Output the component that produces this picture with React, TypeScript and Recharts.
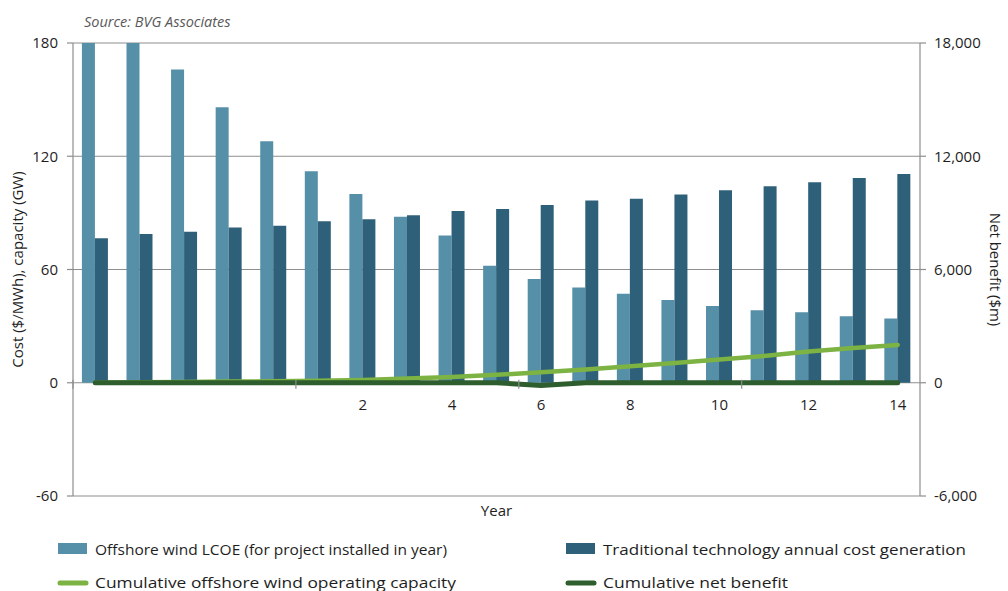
import React from "react";
import {
  ComposedChart,
  Bar,
  Line,
  XAxis,
  YAxis,
  CartesianGrid,
} from "recharts";

// Year index along the x axis (first five are pre-deployment years, unlabelled)
const years = [-4, -3, -2, -1, 0, 1, 2, 3, 4, 5, 6, 7, 8, 9, 10, 11, 12, 13, 14];

// Offshore wind LCOE for project installed in year ($/MWh)
const lcoe = [180, 180, 166, 146, 128, 112, 100, 88, 78, 62, 55, 50.5, 47.2, 43.8, 40.7, 38.4, 37.3, 35.2, 34];

// Traditional technology annual cost of generation ($/MWh)
const traditional = [76.5, 78.8, 80, 82.2, 83.2, 85.5, 86.6, 88.7, 91, 92, 94.2, 96.5, 97.5, 99.8, 102, 104.1, 106.2, 108.5, 110.6];

// Cumulative offshore wind operating capacity (GW)
const capacity = [0, 0.2, 0.4, 0.6, 0.8, 1.0, 1.5, 2.2, 3.0, 4.2, 5.5, 7.0, 8.7, 10.5, 12.3, 14.2, 16.6, 18.4, 20.0];

// Cumulative net benefit ($m)
const netBenefit = [0, 0, 0, 0, 0, 0, 0, 0, 0, 0, -150, 0, 0, 0, 0, 0, 0, 0, 0];

const leftTicks = [-60, 0, 60, 120, 180];
const rightTicks = [-6000, 0, 6000, 12000, 18000];

const data = years.map((year, i) => ({
  year,
  lcoe: lcoe[i],
  traditional: traditional[i],
  capacity: capacity[i],
  netBenefit: netBenefit[i],
}));

const W = 1008;
const H = 591;
const TOP = 43;
const LEFT_W = 73;
const RIGHT_W = 88;
const XAXIS_H = 30;
const BOTTOM = 65;
const PLOT_W = W - LEFT_W - RIGHT_W;
const PLOT_H = H - TOP - BOTTOM - XAXIS_H;
// the category labels sit on the zero line, not the bottom of the plot
const ZERO_Y = TOP + (180 / 240) * PLOT_H;
const BAND = PLOT_W / years.length;

const FONT = "'Open Sans', 'DejaVu Sans', sans-serif";
const TEXT = "#1e1e1e";
const GRID = "#8e8e8e";

const C_LCOE = "#568fa8";
const C_TRAD = "#2e6079";
const C_CAP = "#7cb342";
const C_NET = "#2f5e2e";

function YearTick(props: any) {
  const { x, index, payload } = props;
  const year = payload.value;
  const showLabel = year > 0 && year % 2 === 0;
  const showMark = index % 5 === 0;
  return (
    <g>
      {showMark && (
        <line
          x1={x - BAND / 2}
          x2={x - BAND / 2}
          y1={ZERO_Y - 3}
          y2={ZERO_Y + 6}
          stroke={GRID}
          strokeWidth={1.2}
        />
      )}
      {showLabel && (
        <text
          x={x}
          y={ZERO_Y + 27}
          textAnchor="middle"
          fontSize={15}
          fontFamily={FONT}
          fill={TEXT}
        >
          {year}
        </text>
      )}
    </g>
  );
}

const legendRows = [
  { x: 58, y: 549, kind: "box", color: C_LCOE, text: "Offshore wind LCOE (for project installed in year)", len: 352 },
  { x: 566, y: 549, kind: "box", color: C_TRAD, text: "Traditional technology annual cost generation", len: 363 },
  { x: 58, y: 582, kind: "line", color: C_CAP, text: "Cumulative offshore wind operating capacity", len: 361 },
  { x: 566, y: 582, kind: "line", color: C_NET, text: "Cumulative net benefit", len: 185 },
];

function Overlay() {
  return (
    <svg
      width={W}
      height={H}
      style={{ position: "absolute", left: 0, top: 0, pointerEvents: "none" }}
    >
      <text
        x={84}
        y={27}
        fontSize={14.5}
        fontStyle="italic"
        fontFamily={FONT}
        fill="#595959"
      >
        Source: BVG Associates
      </text>
      {legendRows.map((r) => (
        <g key={r.text}>
          {r.kind === "box" ? (
            <rect x={r.x} y={r.y - 6} width={29} height={11} fill={r.color} />
          ) : (
            <line
              x1={r.x + 2}
              x2={r.x + 28}
              y1={r.y + 1}
              y2={r.y + 1}
              stroke={r.color}
              strokeWidth={5}
              strokeLinecap="round"
            />
          )}
          <text
            x={r.x + 37}
            y={r.y + 6}
            fontSize={15}
            fontFamily={FONT}
            fill={TEXT}
            textLength={r.len}
            lengthAdjust="spacingAndGlyphs"
          >
            {r.text}
          </text>
        </g>
      ))}
    </svg>
  );
}

export default function App() {
  const tickStyle = { fontSize: 15, fontFamily: FONT, fill: TEXT };
  return (
    <div
      style={{
        position: "absolute",
        left: 0,
        top: 0,
        width: W,
        height: H,
        background: "#fff",
        fontFamily: FONT,
      }}
    >
      <ComposedChart
        width={W}
        height={H}
        data={data}
        margin={{ top: TOP, right: 0, bottom: BOTTOM, left: 0 }}
        barCategoryGap="20%"
        barGap={0}
      >
        <CartesianGrid
          yAxisId="left"
          vertical={false}
          stroke={GRID}
          strokeWidth={1.2}
        />
        <XAxis
          dataKey="year"
          type="category"
          interval={0}
          height={XAXIS_H}
          axisLine={false}
          tickLine={false}
          tick={<YearTick />}
          label={{
            value: "Year",
            position: "insideBottom",
            offset: 10,
            style: { fontSize: 15, fontFamily: FONT, fill: TEXT },
          }}
        />
        <YAxis
          yAxisId="left"
          width={LEFT_W}
          domain={[-60, 180]}
          ticks={leftTicks}
          allowDataOverflow
          tick={tickStyle}
          tickSize={6}
          tickMargin={9}
          axisLine={{ stroke: GRID, strokeWidth: 1.2 }}
          tickLine={{ stroke: GRID, strokeWidth: 1.2 }}
          label={{
            value: "Cost ($/MWh), capacity (GW)",
            angle: -90,
            position: "insideLeft",
            offset: 18,
            style: { fontSize: 15, fontFamily: FONT, fill: TEXT, textAnchor: "middle" },
          }}
        />
        <YAxis
          yAxisId="right"
          orientation="right"
          width={RIGHT_W}
          domain={[-6000, 18000]}
          ticks={rightTicks}
          tickFormatter={(v: number) => v.toLocaleString("en-US")}
          tick={{ ...tickStyle, textAnchor: "start" }}
          tickSize={6}
          tickMargin={8}
          axisLine={{ stroke: GRID, strokeWidth: 1.2 }}
          tickLine={{ stroke: GRID, strokeWidth: 1.2 }}
          label={{
            value: "Net benefit ($m)",
            angle: 90,
            position: "insideRight",
            offset: 13,
            style: { fontSize: 15, fontFamily: FONT, fill: TEXT, textAnchor: "middle" },
          }}
        />
        <Bar
          yAxisId="left"
          dataKey="lcoe"
          name="Offshore wind LCOE (for project installed in year)"
          fill={C_LCOE}
          isAnimationActive={false}
        />
        <Bar
          yAxisId="left"
          dataKey="traditional"
          name="Traditional technology annual cost generation"
          fill={C_TRAD}
          isAnimationActive={false}
        />
        <Line
          yAxisId="left"
          dataKey="capacity"
          name="Cumulative offshore wind operating capacity"
          type="linear"
          stroke={C_CAP}
          strokeWidth={4.5}
          strokeLinecap="round"
          dot={false}
          activeDot={false}
          isAnimationActive={false}
        />
        <Line
          yAxisId="right"
          dataKey="netBenefit"
          name="Cumulative net benefit"
          type="linear"
          stroke={C_NET}
          strokeWidth={5}
          strokeLinecap="round"
          dot={false}
          activeDot={false}
          isAnimationActive={false}
        />
      </ComposedChart>
      <Overlay />
    </div>
  );
}
